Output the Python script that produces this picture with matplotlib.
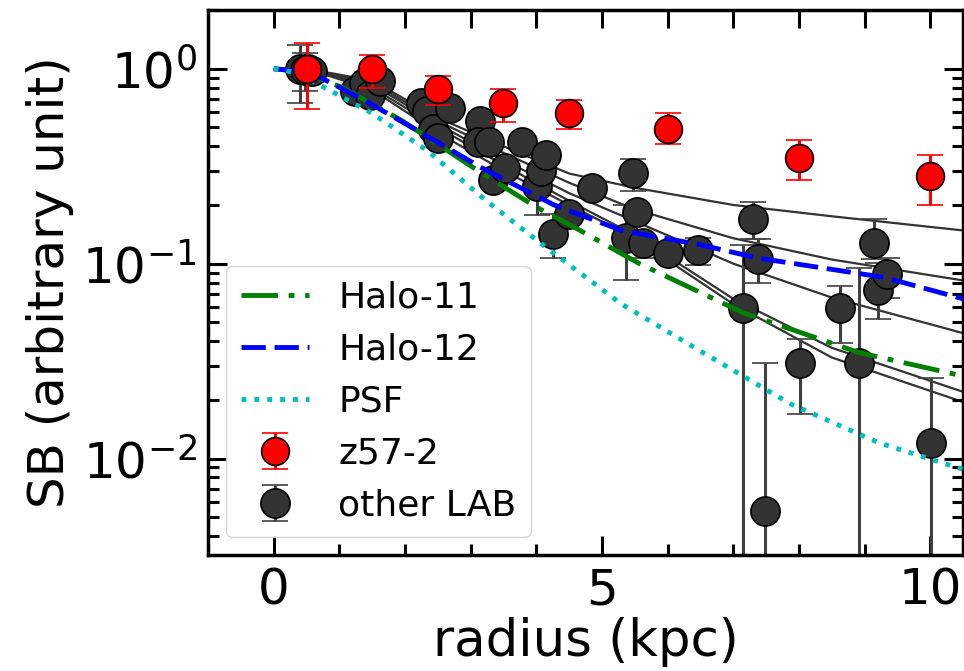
import numpy as np
import matplotlib
matplotlib.use("Agg")
import matplotlib.pyplot as plt

# ---------------- data ----------------
# z57-2 profile
z57_r = [0.5, 1.5, 2.5, 3.5, 4.5, 6.0, 8.0, 10.0]
z57_sb = [1.0, 1.0, 0.79, 0.67, 0.59, 0.49, 0.35, 0.28]
z57_lo = [0.62, 0.80, 0.65, 0.53, 0.49, 0.41, 0.27, 0.20]
z57_hi = [1.36, 1.18, 0.92, 0.79, 0.69, 0.59, 0.43, 0.36]

# other LAB data points (value, lower bound, upper bound)
lab_r = [0.40, 0.47, 0.52, 0.58, 1.24, 1.38, 1.47, 1.62, 2.25, 2.34, 2.43, 2.50,
         2.69, 3.14, 3.11, 3.28, 3.34, 3.52, 3.78, 4.01, 4.07, 4.15, 4.25, 4.50,
         4.85, 5.37, 5.47, 5.53, 5.62, 6.00, 6.46, 7.15, 7.30, 7.37, 7.48, 8.01,
         8.62, 8.91, 9.14, 9.20, 9.34, 10.01]
lab_sb = [1.00, 0.98, 1.00, 0.97, 0.77, 0.84, 0.73, 0.87, 0.67, 0.61, 0.49, 0.44,
          0.63, 0.54, 0.42, 0.42, 0.27, 0.31, 0.42, 0.25, 0.30, 0.36, 0.142, 0.18,
          0.245, 0.136, 0.293, 0.183, 0.128, 0.113, 0.117, 0.059, 0.170, 0.106, 0.0054, 0.031,
          0.059, 0.031, 0.128, 0.073, 0.089, 0.012]
lab_lo = [0.67, 0.77, 0.92, 0.90, 0.72, 0.78, 0.68, 0.81, 0.62, 0.57, 0.45, 0.41,
          0.59, 0.50, 0.39, 0.39, 0.25, 0.29, 0.39, 0.177, 0.28, 0.33, 0.107, 0.165,
          0.23, 0.082, 0.237, 0.17, 0.107, 0.105, 0.098, 0.0, 0.133, 0.080, 0.0, 0.017,
          0.039, 0.0, 0.106, 0.052, 0.067, 0.0]
lab_hi = [1.33, 1.21, 1.08, 1.05, 0.83, 0.90, 0.78, 0.93, 0.72, 0.66, 0.53, 0.47,
          0.68, 0.58, 0.45, 0.45, 0.29, 0.33, 0.45, 0.30, 0.32, 0.39, 0.18, 0.195,
          0.26, 0.20, 0.345, 0.20, 0.138, 0.122, 0.135, 0.124, 0.208, 0.133, 0.031, 0.041,
          0.077, 0.095, 0.170, 0.101, 0.107, 0.026]

# other LAB profile curves
prof_r = [0.5, 1.5, 2.5, 3.5, 4.5, 5.5, 7.0, 8.5, 10.5]
prof_a = [1.0, 0.87, 0.56, 0.40, 0.29, 0.245, 0.20, 0.175, 0.148]
prof_b = [1.0, 0.85, 0.54, 0.37, 0.26, 0.19, 0.135, 0.105, 0.082]
prof_c = [1.0, 0.83, 0.52, 0.34, 0.23, 0.165, 0.10, 0.067, 0.044]
prof_d = [1.0, 0.80, 0.50, 0.32, 0.21, 0.14, 0.066, 0.037, 0.022]
prof_e = [1.0, 0.78, 0.47, 0.30, 0.20, 0.135, 0.062, 0.033, 0.0195]

# model curves
halo11_r = [0.0, 0.4, 1.05, 1.96, 3.11, 4.0, 4.59, 5.57, 7.15, 8.91, 10.5]
halo11_sb = [1.0, 0.97, 0.80, 0.54, 0.30, 0.195, 0.153, 0.10, 0.056, 0.035, 0.0265]
halo12_r = [0.0, 0.4, 0.66, 1.38, 2.34, 3.17, 4.27, 5.3, 6.5, 7.36, 9.3, 10.5]
halo12_sb = [1.0, 0.97, 0.92, 0.69, 0.45, 0.31, 0.20, 0.148, 0.125, 0.107, 0.085, 0.066]
psf_r = [0.0, 0.3, 0.66, 1.5, 2.34, 3.24, 4.15, 5.3, 6.6, 7.88, 9.23, 10.5]
psf_sb = [1.0, 0.96, 0.84, 0.59, 0.38, 0.21, 0.121, 0.062, 0.034, 0.019, 0.012, 0.0088]

# ---------------- plot ----------------
fig = plt.figure(figsize=(9.64, 6.71), dpi=100)
ax = fig.add_axes([0.2158, 0.1729, 0.7832, 0.8121])

gray = "#333333"
for prof in (prof_a, prof_b, prof_c, prof_d, prof_e):
    ax.plot(prof_r, prof, color=gray, lw=1.6, zorder=1)

lab_sb_a = np.array(lab_sb)
lab_err = [lab_sb_a - np.array(lab_lo), np.array(lab_hi) - lab_sb_a]
ax.errorbar(lab_r, lab_sb, yerr=lab_err, fmt="o", color="#404040", mfc=gray,
            mec="black", mew=1.2, ms=21, elinewidth=2.2, capsize=9.5, capthick=2.2,
            label="other LAB", zorder=2)

ax.plot(halo11_r, halo11_sb, color="green", lw=3.5, dashes=(7.5, 2.2, 1.2, 2.2),
        label="Halo-11", zorder=3)
ax.plot(halo12_r, halo12_sb, color="blue", lw=3.5, dashes=(5, 1.8),
        label="Halo-12", zorder=3)
ax.plot(psf_r, psf_sb, color="c", lw=3.5, ls=":", label="PSF", zorder=3)

z_sb = np.array(z57_sb)
z_err = [z_sb - np.array(z57_lo), np.array(z57_hi) - z_sb]
ax.errorbar(z57_r, z57_sb, yerr=z_err, fmt="o", color="red", mfc="red",
            mec="black", mew=1.2, ms=20, elinewidth=2.2, capsize=9.5, capthick=2.2,
            label="z57-2", zorder=4)

ax.set_yscale("log")
ax.set_xlim(-1.0, 10.5)
ax.set_ylim(3.2e-3, 2.0)

ax.set_xticks([0, 5, 10])
ax.set_xticks(np.arange(-1, 11, 1), minor=True)
ax.tick_params(which="both", direction="in", right=True, top=False, labelsize=36, width=2.2)
ax.tick_params(which="major", length=14, pad=8)
ax.tick_params(which="minor", length=8)
for s in ax.spines.values():
    s.set_linewidth(2.5)

ax2 = ax.twiny()
ax2.set_xlim(ax.get_xlim())
ax2.set_xticks(np.arange(0, 11, 1))
ax2.tick_params(which="major", direction="in", length=13, width=2.2, labeltop=False)
ax2.tick_params(which="minor", top=False)

ax.set_xlabel("radius (kpc)", fontsize=37, labelpad=2)
ax.set_ylabel("SB (arbitrary unit)", fontsize=36, labelpad=6)

handles, labels = ax.get_legend_handles_labels()
order = ["Halo-11", "Halo-12", "PSF", "z57-2", "other LAB"]
hmap = dict(zip(labels, handles))
ax.legend([hmap[k] for k in order], order, loc="lower left", fontsize=26,
          labelspacing=0.5, handlelength=1.9, handletextpad=0.8, borderpad=0.4)

fig.savefig("out.png", dpi=100)
